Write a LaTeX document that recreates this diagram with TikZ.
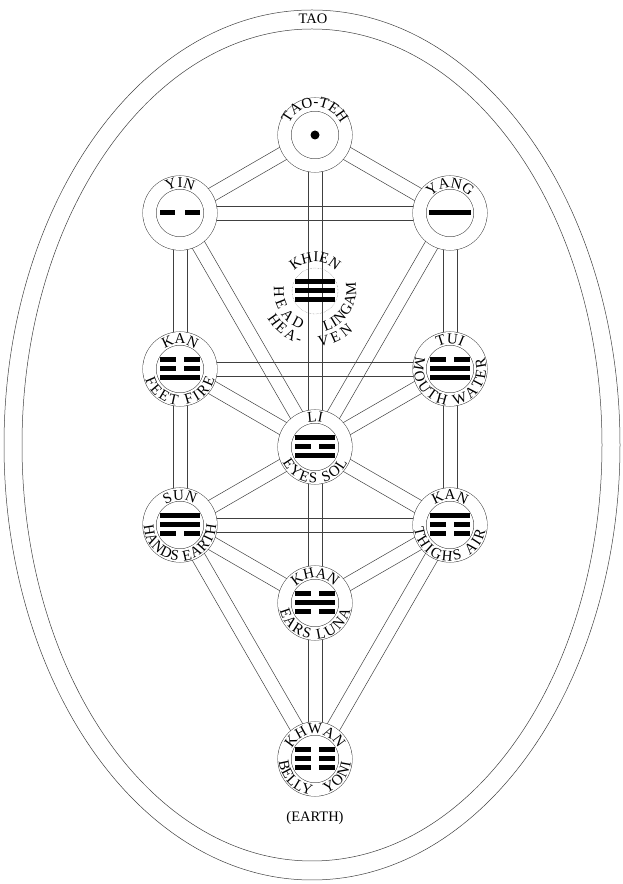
\documentclass[tikz,border=0pt]{standalone}
\usepackage{fontspec}
\setmainfont{Liberation Serif}
\usetikzlibrary{calc,decorations.text,backgrounds}

\newcommand\ringfont{\fontsize{15}{17}\selectfont}

\tikzset{
  thin line/.style={draw=black!75, line width=0.5pt},
  sephirah/.style={circle, thin line, double, double distance=13pt, fill=white,
    minimum size=61pt, inner sep=0pt},
  hidden/.style={circle, draw=black!55, densely dotted, line width=0.4pt,
    minimum size=46pt, inner sep=0pt},
  channel/.style={thin line},
  bar/.style={fill=black},
}

% two parallel strokes between two rings
\newcommand\twin[2]{%
  \draw[channel] ($(#1)!7pt!90:(#2)$) -- ($(#2)!7pt!-90:(#1)$);
  \draw[channel] ($(#1)!7pt!-90:(#2)$) -- ($(#2)!7pt!90:(#1)$);}

% name over the top of a ring
\newcommand\overring[3][25]{%
  \path[decorate,decoration={text along path,text={|\ringfont|#3},text align=center}]
    ($(#2)+(178:#1pt)$) arc[start angle=178,end angle=2,radius=#1pt];}

% words under a ring, spread from angle #4 to angle #5
\newcommand\underring[5][36]{%
  \path[decorate,decoration={text along path,text={|\ringfont|#3},text align={fit to path}}]
    ($(#2)+(#4:#1pt)$) arc[start angle=#4,end angle=#5,radius=#1pt];}

% three lines, top to bottom, 1 = whole, 0 = broken
\newcommand\trigram[4]{%
  \begin{scope}[shift={(#1)}]
    \foreach \v [count=\i] in {#2,#3,#4}{
      \pgfmathsetmacro\yy{18-9*\i}
      \ifnum\v=1
        \fill[bar] (-20,\yy-2.5) rectangle (20,\yy+2.5);
      \else
        \fill[bar] (-20,\yy-2.5) rectangle (-4,\yy+2.5);
        \fill[bar] (4,\yy-2.5) rectangle (20,\yy+2.5);
      \fi}
  \end{scope}}

\begin{document}
\begin{tikzpicture}[x=1pt,y=1pt,every node/.style={font=\fontsize{14.5}{17}\selectfont}]
\useasboundingbox (0,0) rectangle (623,884);

\draw[thin line] (312,439) ellipse[x radius=308pt, y radius=435pt];
\draw[thin line] (312,439) ellipse[x radius=290pt, y radius=416pt];
\node (tao) at (313,865) {TAO};

\node[sephirah] (taoteh) at (315,749) {};
\node[sephirah] (yin) at (180,671) {};
\node[sephirah] (yang) at (450,671) {};
\node[hidden] (khien) at (315,593) {};
\node[sephirah] (kanl) at (180,515) {};
\node[sephirah] (tui) at (450,515) {};
\node[sephirah] (li) at (315,437) {};
\node[sephirah] (sun) at (180,359) {};
\node[sephirah] (kanr) at (450,359) {};
\node[sephirah] (khan) at (315,281) {};
\node[sephirah] (khwan) at (315,125) {};
\node (earth) at (315,66) {(EARTH)};

\begin{scope}[on background layer]
\foreach \a/\b in {taoteh/yin,taoteh/yang,taoteh/li,yin/yang,yin/li,yang/li,
    yin/kanl,yang/tui,kanl/tui,kanl/li,tui/li,kanl/sun,tui/kanr,sun/kanr,
    sun/li,kanr/li,sun/khan,kanr/khan,li/khan,sun/khwan,kanr/khwan,khan/khwan}
  \twin{\a}{\b};
\end{scope}

%% signs
\fill (taoteh) circle[radius=4.5pt];
\begin{scope}[shift={(yin)}]
  \fill[bar] (-20,-2.5) rectangle (-5,2.5);
  \fill[bar] (5,-2.5) rectangle (20,2.5);
\end{scope}
\begin{scope}[shift={(yang)}]
  \fill[bar] (-21,-2.5) rectangle (21,2.5);
\end{scope}
\trigram{khien}{1}{1}{1}
\trigram{kanl}{0}{0}{1}
\trigram{tui}{0}{1}{1}
\trigram{li}{1}{0}{1}
\trigram{sun}{1}{1}{0}
\trigram{kanr}{1}{0}{0}
\trigram{khan}{0}{1}{0}
\trigram{khwan}{0}{0}{0}

%% names
\overring[28]{taoteh}{TAO-TEH}
\overring{yin}{YIN}
\overring{yang}{YANG}
\overring[29]{khien}{KHIEN}
\overring{kanl}{KAN}
\overring{tui}{TUI}
\overring{li}{LI}
\overring{sun}{SUN}
\overring{kanr}{KAN}
\overring{khan}{KHAN}
\overring{khwan}{KHWAN}

\underring[41]{khien}{HEAD}{174}{250}
\underring[41]{khien}{LINGAM}{284}{372}
\underring[55]{khien}{HEA-}{210}{254}
\underring[55]{khien}{VEN}{274}{314}
\underring{kanl}{FEET FIRE}{196}{344}
\underring{tui}{MOUTH WATER}{160}{378}
\underring{li}{EYES SOL}{206}{334}
\underring{sun}{HANDS EARTH}{180}{360}
\underring{kanr}{THIGHS AIR}{186}{350}
\underring{khan}{EARS LUNA}{192}{348}
\underring{khwan}{BELLY}{184}{264}
\underring{khwan}{YONI}{288}{354}
\end{tikzpicture}
\end{document}
